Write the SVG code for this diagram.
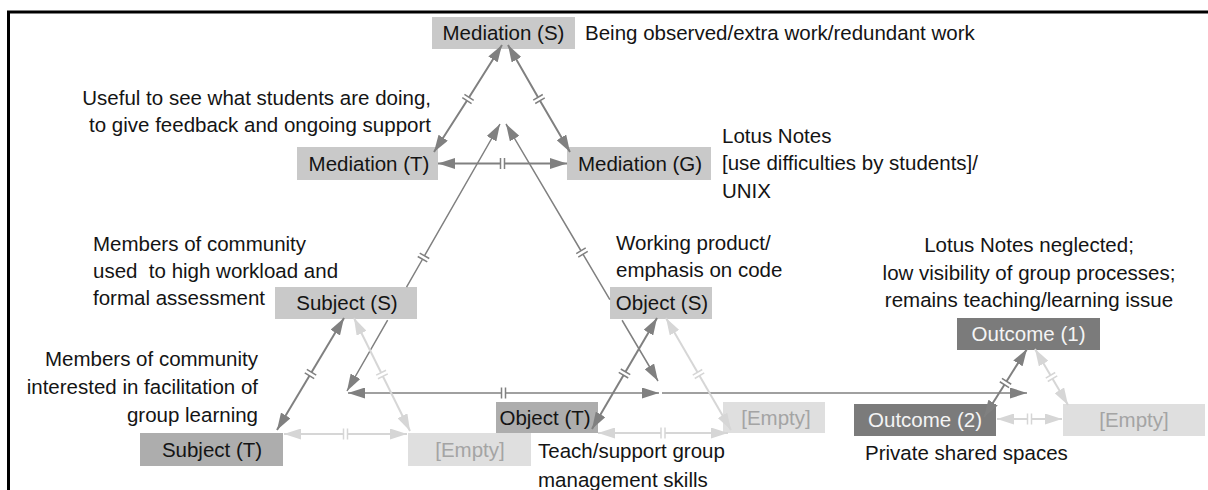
<svg xmlns="http://www.w3.org/2000/svg" width="1208" height="490" viewBox="0 0 1208 490">
<style>
text{font-family:"Liberation Sans",Arial,sans-serif;font-size:20.5px;fill:#141414}
.c{text-anchor:middle}
.e{text-anchor:end}
.bm{fill:#c9c9c9}
.bd{fill:#adadad}
.bo{fill:#7b7b7b}
.be{fill:#dfdfdf}
.tw{fill:#f4f4f4}
.te{fill:#a4a4a4}
.dk{fill:none;stroke:#808080;stroke-width:2;marker-start:url(#ad);marker-end:url(#ad);marker-mid:url(#kd)}
.lt{fill:none;stroke:#d6d6d6;stroke-width:2;marker-start:url(#al);marker-end:url(#al);marker-mid:url(#kl)}
.thin{stroke-width:1.5}
</style>
<defs>
<marker id="ad" viewBox="0 0 17 11" markerWidth="17" markerHeight="11" refX="17" refY="5.5" orient="auto-start-reverse" markerUnits="userSpaceOnUse"><path d="M0,0 L17,5.5 L0,11 z" fill="#808080"/></marker>
<marker id="al" viewBox="0 0 17 11" markerWidth="17" markerHeight="11" refX="17" refY="5.5" orient="auto-start-reverse" markerUnits="userSpaceOnUse"><path d="M0,0 L17,5.5 L0,11 z" fill="#d6d6d6"/></marker>
<marker id="ae" viewBox="0 0 17 11" markerWidth="17" markerHeight="11" refX="17" refY="5.5" orient="auto" markerUnits="userSpaceOnUse"><path d="M0,0 L17,5.5 L0,11 z" fill="#808080"/></marker>
<marker id="kd" viewBox="0 0 12 14" markerWidth="12" markerHeight="14" refX="6" refY="7" orient="auto" markerUnits="userSpaceOnUse"><rect x="4" y="4" width="4" height="6" fill="#fff"/><path d="M4,1.5 V12.5 M8,1.5 V12.5" stroke="#808080" stroke-width="1.5"/></marker>
<marker id="kl" viewBox="0 0 12 14" markerWidth="12" markerHeight="14" refX="6" refY="7" orient="auto" markerUnits="userSpaceOnUse"><rect x="4" y="4" width="4" height="6" fill="#fff"/><path d="M4,1.5 V12.5 M8,1.5 V12.5" stroke="#d6d6d6" stroke-width="1.5"/></marker>
</defs>
<rect width="1208" height="490" fill="#fff"/>
<path d="M8.5,490 V12 H1208" fill="none" stroke="#000" stroke-width="3"/>

<g id="n-med-s"><rect class="bm" x="432" y="17" width="143" height="32"/><text class="c" x="503.5" y="40">Mediation (S)</text></g>
<g id="n-med-t"><rect class="bm" x="297" y="147" width="141" height="33"/><text class="c" x="369" y="171">Mediation (T)</text></g>
<g id="n-med-g"><rect class="bm" x="567" y="147" width="144" height="33"/><text class="c" x="640" y="171">Mediation (G)</text></g>
<g id="n-sub-s"><rect class="bm" x="275" y="287" width="142" height="32"/><text class="c" x="347" y="310">Subject (S)</text></g>
<g id="n-obj-s"><rect class="bm" x="610" y="287" width="102" height="32"/><text class="c" x="662" y="310">Object (S)</text></g>
<g id="n-sub-t"><rect class="bd" x="140" y="433" width="143" height="33"/><text class="c" x="212" y="457">Subject (T)</text></g>
<g id="n-obj-t"><rect class="bd" x="496" y="402" width="102" height="31"/><text class="c" x="545" y="425">Object (T)</text></g>
<g id="n-empty-1"><rect class="be" x="408" y="433" width="123" height="33"/><text class="c te" x="470" y="457">[Empty]</text></g>
<g id="n-empty-2"><rect class="be" x="723" y="402" width="102" height="31"/><text class="c te" x="776" y="425">[Empty]</text></g>
<g id="n-out-1"><rect class="bo" x="957" y="318" width="143" height="32"/><text class="c tw" x="1028.5" y="341">Outcome (1)</text></g>
<g id="n-out-2"><rect class="bo" x="854" y="404" width="142" height="32"/><text class="c tw" x="925" y="427">Outcome (2)</text></g>
<g id="n-empty-3"><rect class="be" x="1063" y="404" width="142" height="32"/><text class="c te" x="1134" y="427">[Empty]</text></g>

<g id="connectors">
<path class="dk" d="M502,45 L468,99 L434,152"/>
<path class="dk" d="M508,45 L539,99 L570,152"/>
<path class="dk" d="M438,163.5 L502.5,163.5 L567,163.5"/>
<path class="dk thin" d="M500,124 L423.5,257.5 L347,391" stroke-dasharray="188 38 200"/>
<path class="dk thin" d="M506,124 L582,252.5 L658,381" stroke-dasharray="204 24 200"/>
<path class="dk thin" d="M348,393 L503.5,393 L659,393"/>
<path d="M662,393 L1027,393" fill="none" stroke="#808080" stroke-width="1.5" marker-end="url(#ae)"/>
<path class="dk" d="M344,318 L310.5,374 L277,430"/>
<path class="lt" d="M354,318 L382,374.5 L410,431"/>
<path class="lt" d="M284,434 L345.5,434 L407,434"/>
<path class="dk" d="M657,318 L624.5,373.5 L592,429"/>
<path class="lt" d="M666,318 L698.5,374 L731,430"/>
<path class="lt" d="M598,433 L663,433 L728,433"/>
<path class="dk" d="M1027,349 L1005.5,383 L984,417"/>
<path class="lt" d="M1035,349 L1051.5,377 L1068,405"/>
<path class="lt" d="M997,419 L1029.5,419 L1062,419"/>
</g>

<g id="notes">
<text x="585" y="40">Being observed/extra work/redundant work</text>
<text class="e" x="431" y="105">Useful to see what students are doing,</text>
<text class="e" x="431" y="132">to give feedback and ongoing support</text>
<text x="722" y="143">Lotus Notes</text>
<text x="722" y="170">[use difficulties by students]/</text>
<text x="722" y="198">UNIX</text>
<text x="93" y="251">Members of community</text>
<text x="93" y="278" style="white-space:pre">used  to high workload and</text>
<text x="93" y="305">formal assessment</text>
<text x="616" y="250">Working product/</text>
<text x="616" y="277">emphasis on code</text>
<text class="c" x="1029" y="252">Lotus Notes neglected;</text>
<text class="c" x="1029" y="280">low visibility of group processes;</text>
<text class="c" x="1029" y="307">remains teaching/learning issue</text>
<text class="e" x="258" y="366">Members of community</text>
<text class="e" x="258" y="394">interested in facilitation of</text>
<text class="e" x="258" y="422">group learning</text>
<text x="538" y="458">Teach/support group</text>
<text x="538" y="487">management skills</text>
<text x="865" y="460">Private shared spaces</text>
</g>
</svg>
